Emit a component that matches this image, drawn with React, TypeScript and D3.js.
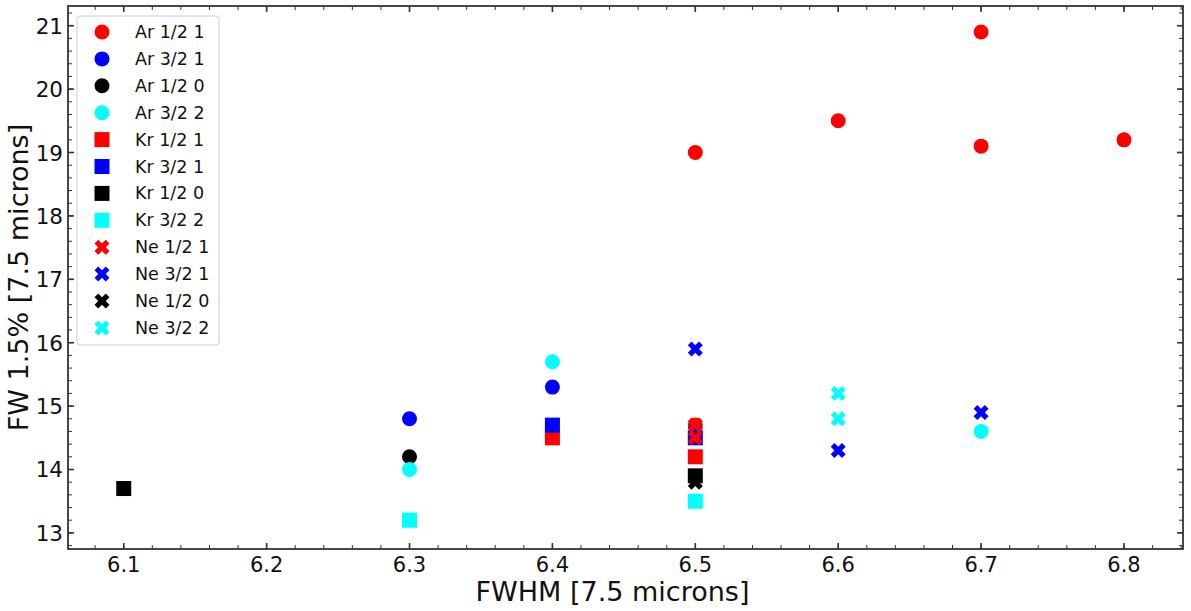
import React from "react";
import * as d3 from "d3";

const W = 1191;
const H = 611;

const xTicks = [6.1, 6.2, 6.3, 6.4, 6.5, 6.6, 6.7, 6.8];
const yTicks = [13, 14, 15, 16, 17, 18, 19, 20, 21];

const arHalf1 = [[6.5, 19.0], [6.5, 14.7], [6.6, 19.5], [6.7, 20.9], [6.7, 19.1], [6.8, 19.2]];
const arThreeHalf1 = [[6.3, 14.8], [6.4, 15.3]];
const arHalf0 = [[6.3, 14.2]];
const arThreeHalf2 = [[6.3, 14.0], [6.4, 15.7], [6.7, 14.6]];
const krHalf1 = [[6.4, 14.5], [6.5, 14.2]];
const krThreeHalf1 = [[6.4, 14.7], [6.5, 14.5]];
const krHalf0 = [[6.1, 13.7], [6.5, 13.9]];
const krThreeHalf2 = [[6.3, 13.2], [6.5, 13.5]];
const neHalf1 = [[6.5, 14.7], [6.5, 14.5]];
const neThreeHalf1 = [[6.5, 15.9], [6.5, 14.6], [6.6, 14.3], [6.7, 14.9]];
const neHalf0 = [[6.5, 13.8]];
const neThreeHalf2 = [[6.6, 15.2], [6.6, 14.8]];

type Series = { name: string; shape: "circle" | "square" | "x"; color: string; data: number[][] };

const series: Series[] = [
  { name: "Ar 1/2 1", shape: "circle", color: "#ff0000", data: arHalf1 },
  { name: "Ar 3/2 1", shape: "circle", color: "#0000ff", data: arThreeHalf1 },
  { name: "Ar 1/2 0", shape: "circle", color: "#000000", data: arHalf0 },
  { name: "Ar 3/2 2", shape: "circle", color: "#00ffff", data: arThreeHalf2 },
  { name: "Kr 1/2 1", shape: "square", color: "#ff0000", data: krHalf1 },
  { name: "Kr 3/2 1", shape: "square", color: "#0000ff", data: krThreeHalf1 },
  { name: "Kr 1/2 0", shape: "square", color: "#000000", data: krHalf0 },
  { name: "Kr 3/2 2", shape: "square", color: "#00ffff", data: krThreeHalf2 },
  { name: "Ne 1/2 1", shape: "x", color: "#ff0000", data: neHalf1 },
  { name: "Ne 3/2 1", shape: "x", color: "#0000ff", data: neThreeHalf1 },
  { name: "Ne 1/2 0", shape: "x", color: "#000000", data: neHalf0 },
  { name: "Ne 3/2 2", shape: "x", color: "#00ffff", data: neThreeHalf2 },
];

// drawing order (blue X under red X)
const drawOrder = [0, 1, 2, 3, 4, 5, 6, 7, 9, 8, 10, 11];

const M = 15; // marker size
const xPts: [number, number][] = [
  [0.25, 0], [0.5, 0.25], [0.25, 0.5], [0, 0.25], [-0.25, 0.5], [-0.5, 0.25],
  [-0.25, 0], [-0.5, -0.25], [-0.25, -0.5], [0, -0.25], [0.25, -0.5], [0.5, -0.25],
];
const xPath = "M" + xPts.map(([a, b]) => `${a * M},${b * M}`).join("L") + "Z";

function Marker({ shape, color, cx, cy }: { shape: string; color: string; cx: number; cy: number }) {
  if (shape === "circle") return <circle cx={cx} cy={cy} r={M / 2} fill={color} />;
  if (shape === "square")
    return <rect x={cx - M / 2} y={cy - M / 2} width={M} height={M} fill={color} />;
  return <path d={xPath} transform={`translate(${cx},${cy})`} fill={color} />;
}

export default function App() {
  const L = 68, R = 1183, T = 6, B = 549;
  const x = d3.scaleLinear().domain([6.061, 6.8413]).range([L, R]);
  const y = d3.scaleLinear().domain([12.746, 21.311]).range([B, T]);
  const xMinor = d3.range(6.08, 6.841, 0.02).filter((v) => x(v) >= L && x(v) <= R);
  const yMinor = d3.range(12.8, 21.31, 0.2).filter((v) => y(v) >= T && y(v) <= B);
  const font = "DejaVu Sans, sans-serif";
  const axisColor = "#333";
  const legX = 77, legY = 16, legW = 142, legH = 329, rowH = 26.9;

  return (
    <div style={{ position: "absolute", left: 0, top: 0 }}>
      <svg width={W} height={H} style={{ display: "block", background: "#fff" }} fontFamily={font}>
        <rect x={0} y={0} width={W} height={H} fill="#fff" />
        {drawOrder.map((i) => {
          const s = series[i];
          return (
            <g key={s.name}>
              {s.data.map((d, j) => (
                <Marker key={j} shape={s.shape} color={s.color} cx={x(d[0])} cy={y(d[1])} />
              ))}
            </g>
          );
        })}
        {/* ticks */}
        <g stroke={axisColor}>
          {xTicks.map((t) => (
            <g key={"xt" + t} strokeWidth={1.6}>
              <line x1={x(t)} x2={x(t)} y1={B} y2={B - 6} />
              <line x1={x(t)} x2={x(t)} y1={T} y2={T + 6} />
            </g>
          ))}
          {xMinor.map((t) => (
            <g key={"xm" + t} strokeWidth={1}>
              <line x1={x(t)} x2={x(t)} y1={B} y2={B - 4} />
              <line x1={x(t)} x2={x(t)} y1={T} y2={T + 4} />
            </g>
          ))}
          {yTicks.map((t) => (
            <g key={"yt" + t} strokeWidth={1.6}>
              <line x1={L} x2={L + 6} y1={y(t)} y2={y(t)} />
              <line x1={R} x2={R - 6} y1={y(t)} y2={y(t)} />
            </g>
          ))}
          {yMinor.map((t) => (
            <g key={"ym" + t} strokeWidth={1}>
              <line x1={L} x2={L + 4} y1={y(t)} y2={y(t)} />
              <line x1={R} x2={R - 4} y1={y(t)} y2={y(t)} />
            </g>
          ))}
        </g>
        <rect x={L} y={T} width={R - L} height={B - T} fill="none" stroke={axisColor} strokeWidth={1.8} />
        {/* tick labels */}
        {xTicks.map((t) => (
          <text key={"xl" + t} x={x(t)} y={B + 23} fontSize={21} textAnchor="middle" fill="#111">
            {d3.format(".1f")(t)}
          </text>
        ))}
        {yTicks.map((t) => (
          <text key={"yl" + t} x={L - 5} y={y(t) + 8} fontSize={21.5} textAnchor="end" fill="#111">
            {t}
          </text>
        ))}
        <text x={(L + R) / 2 - 13} y={601} fontSize={27} textAnchor="middle" fill="#111">
          FWHM [7.5 microns]
        </text>
        <text
          transform={`translate(28,${(T + B) / 2}) rotate(-90)`}
          fontSize={27}
          textAnchor="middle"
          fill="#111"
        >
          FW 1.5% [7.5 microns]
        </text>
        {/* legend */}
        <rect x={legX} y={legY} width={legW} height={legH} rx={3} fill="#fff" fillOpacity={0.8} stroke="#ccc" strokeWidth={1} />
        {series.map((s, i) => {
          const cy = legY + 16 + i * rowH;
          return (
            <g key={"leg" + s.name}>
              <Marker shape={s.shape} color={s.color} cx={102} cy={cy} />
              <text x={135} y={cy + 6} fontSize={17.5} fill="#111">
                {s.name}
              </text>
            </g>
          );
        })}
      </svg>
    </div>
  );
}
